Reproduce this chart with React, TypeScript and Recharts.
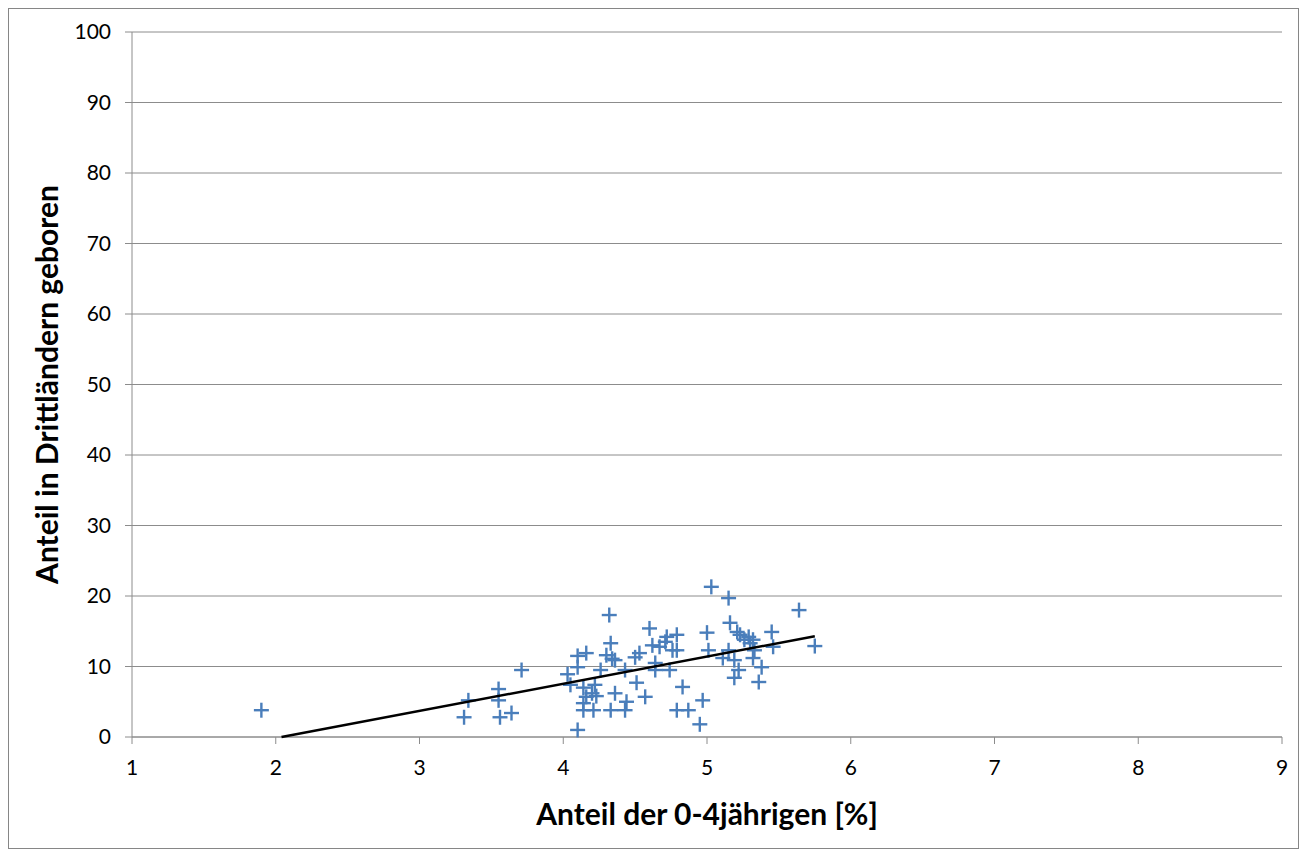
import {
  CartesianGrid,
  Scatter,
  ScatterChart,
  XAxis,
  YAxis,
} from "recharts";

// Anteil der 0-4jährigen [%]
const xValues = [
  1.9, 3.34, 3.31, 3.55, 3.55, 3.56, 3.64, 3.71, 4.1, 4.03, 4.05, 4.1, 4.16, 4.1, 4.14, 4.16,
  4.2, 4.14, 4.14, 4.21, 4.23, 4.22, 4.26, 4.32, 4.33, 4.3, 4.34, 4.36, 4.33, 4.36, 4.43, 4.44,
  4.43, 4.51, 4.5, 4.53, 4.57, 4.6, 4.62, 4.64, 4.64, 4.67, 4.71, 4.72, 4.76, 4.79, 4.79, 4.74,
  4.83, 4.79, 4.87, 4.97, 4.95, 5.03, 5.0, 5.01, 5.15, 5.16, 5.21, 5.11, 5.15, 5.19, 5.22, 5.19,
  5.23, 5.26, 5.29, 5.3, 5.32, 5.33, 5.32, 5.38, 5.36, 5.45, 5.46, 5.64, 5.75,
];

// Anteil in Drittländern geboren
const yValues = [
  3.8, 5.2, 2.8, 6.8, 5.2, 2.8, 3.4, 9.5, 1.0, 8.9, 7.4, 11.5, 11.9, 9.9, 7.0, 5.7,
  6.2, 4.8, 3.8, 3.8, 5.8, 7.4, 9.5, 17.3, 13.3, 11.6, 11.1, 10.9, 3.8, 6.2, 9.5, 5.0,
  3.8, 7.7, 11.3, 11.9, 5.7, 15.4, 13.0, 10.5, 9.5, 12.8, 13.5, 14.2, 12.3, 14.5, 12.3, 9.5,
  7.1, 3.8, 3.8, 5.2, 1.8, 21.3, 14.8, 12.3, 19.7, 16.2, 14.9, 11.2, 12.3, 10.9, 9.5, 8.4,
  14.5, 13.8, 14.2, 13.3, 13.8, 12.3, 11.2, 9.9, 7.8, 14.9, 12.8, 18.0, 12.9,
];

// linear trend line, endpoints as drawn
const trendX = [2.04, 5.75];
const trendY = [0, 14.3];

const xTicks = [1, 2, 3, 4, 5, 6, 7, 8, 9];
const yTicks = [0, 10, 20, 30, 40, 50, 60, 70, 80, 90, 100];

const points = xValues.map((x, i) => ({ x, y: yValues[i] }));
const trend = trendX.map((x, i) => ({ x, y: trendY[i] }));

const FONT = "Lato, 'Open Sans', sans-serif";
const GRID = "#8c8c8c";
const BLUE = "#4a7ebb";

const Cross = (props: any) => {
  const { cx, cy } = props;
  if (cx == null || cy == null) return <g />;
  const r = 7.5;
  return (
    <g stroke={BLUE} strokeWidth={2.4}>
      <line x1={cx - r} y1={cy} x2={cx + r} y2={cy} />
      <line x1={cx} y1={cy - r} x2={cx} y2={cy + r} />
    </g>
  );
};

const tickStyle = { fontSize: 21, fill: "#000", fontFamily: FONT };
const titleStyle = { fontSize: 30, fontWeight: 700, fill: "#000", fontFamily: FONT };

export default function App() {
  return (
    <div
      style={{
        width: 1291,
        height: 841,
        border: "1px solid #868686",
        boxSizing: "border-box",
        background: "#fff",
      }}
    >
      <ScatterChart
        width={1289}
        height={839}
        margin={{ top: 23, right: 16, left: 30, bottom: 11 }}
      >
        <CartesianGrid horizontal vertical={false} stroke={GRID} strokeWidth={1} />
        <XAxis
          type="number"
          dataKey="x"
          domain={[1, 9]}
          ticks={xTicks}
          interval={0}
          height={100}
          tick={tickStyle}
          tickSize={7}
          tickMargin={16}
          axisLine={{ stroke: GRID }}
          tickLine={{ stroke: GRID }}
          label={{
            value: "Anteil der 0-4jährigen [%]",
            position: "insideBottom",
            offset: 12,
            style: titleStyle,
          }}
        />
        <YAxis
          type="number"
          dataKey="y"
          domain={[0, 100]}
          ticks={yTicks}
          interval={0}
          width={93}
          tick={tickStyle}
          tickSize={7}
          tickMargin={14}
          axisLine={{ stroke: GRID }}
          tickLine={{ stroke: GRID }}
          label={{
            value: "Anteil in Drittländern geboren",
            angle: -90,
            position: "insideLeft",
            offset: 8,
            style: { ...titleStyle, textAnchor: "middle" },
          }}
        />
        <Scatter data={points} shape={Cross} isAnimationActive={false} />
        <Scatter
          data={trend}
          line={{ stroke: "#000", strokeWidth: 2.5 }}
          shape={() => <g />}
          isAnimationActive={false}
        />
      </ScatterChart>
    </div>
  );
}
